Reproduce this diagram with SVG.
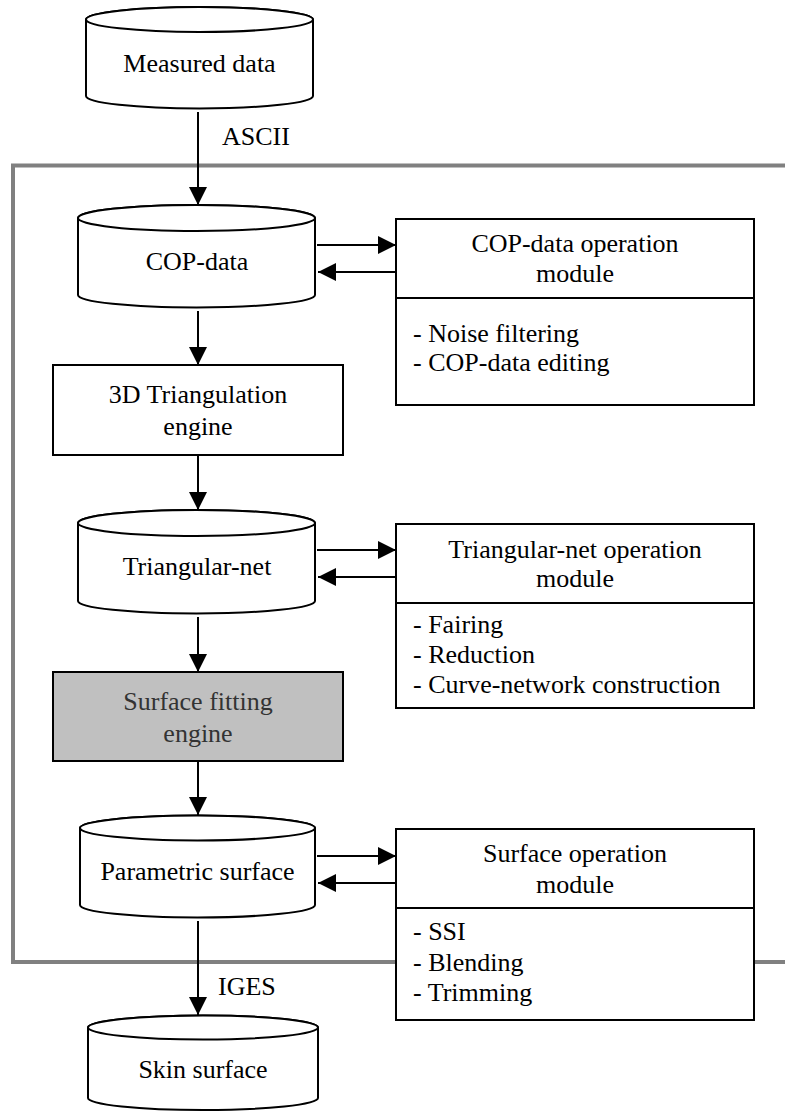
<svg xmlns="http://www.w3.org/2000/svg" width="785" height="1113" viewBox="0 0 785 1113">
<style>
.t{font-family:"Liberation Serif","Times New Roman",serif;font-size:26px;fill:#000}
.c{text-anchor:middle}
.shape{fill:#fff;stroke:#000;stroke-width:2}
.ln{stroke:#000;stroke-width:2;fill:none}
</style>
<defs>
<marker id="ah" markerUnits="userSpaceOnUse" markerWidth="18" markerHeight="18" refX="18" refY="9" orient="auto">
<path d="M0,0 L18,9 L0,18 Z" fill="#000"/>
</marker>
</defs>
<rect x="0" y="0" width="785" height="1113" fill="#fff"/>
<g id="frame"><rect x="13" y="165.5" width="800" height="796.5" fill="none" stroke="#808080" stroke-width="4"/></g>
<g id="connectors" font-family="Liberation Serif, serif">
<line class="ln" x1="198" y1="112" x2="198" y2="205" marker-end="url(#ah)"/>
<line class="ln" x1="198" y1="311" x2="198" y2="365" marker-end="url(#ah)"/>
<line class="ln" x1="198" y1="455" x2="198" y2="510" marker-end="url(#ah)"/>
<line class="ln" x1="198" y1="617" x2="198" y2="672" marker-end="url(#ah)"/>
<line class="ln" x1="198" y1="761" x2="198" y2="815" marker-end="url(#ah)"/>
<line class="ln" x1="198" y1="921" x2="198" y2="1015" marker-end="url(#ah)"/>
<line class="ln" x1="317" y1="245" x2="396" y2="245" marker-end="url(#ah)"/>
<line class="ln" x1="396" y1="272" x2="318" y2="272" marker-end="url(#ah)"/>
<line class="ln" x1="317" y1="550" x2="396" y2="550" marker-end="url(#ah)"/>
<line class="ln" x1="396" y1="577" x2="318" y2="577" marker-end="url(#ah)"/>
<line class="ln" x1="317" y1="856" x2="396" y2="856" marker-end="url(#ah)"/>
<line class="ln" x1="396" y1="883" x2="318" y2="883" marker-end="url(#ah)"/>
<text class="t" x="222" y="145">ASCII</text>
<text class="t" x="218" y="995">IGES</text>
</g>
<g id="measured" font-family="Liberation Serif, serif">
<path class="shape" d="M86,19.5 A113.5,12.5 0 0 1 313,19.5 V96 A113.5,12.5 0 0 1 86,96 Z"/>
<ellipse class="shape" cx="199.5" cy="19.5" rx="113.5" ry="12.5" fill="none"/>
<text class="t c" x="199.5" y="72">Measured data</text>
</g>
<g id="copdata" font-family="Liberation Serif, serif">
<path class="shape" d="M78,218 A118.5,13 0 0 1 315,218 V295 A118.5,12.5 0 0 1 78,295 Z"/>
<ellipse class="shape" cx="196.5" cy="218" rx="118.5" ry="13"/>
<text class="t c" x="197" y="270">COP-data</text>
</g>
<g id="copmodule" font-family="Liberation Serif, serif">
<rect class="shape" x="396" y="219" width="358" height="186"/>
<line class="ln" x1="396" y1="298" x2="754" y2="298"/>
<text class="t c" x="575" y="252">COP-data operation</text>
<text class="t c" x="575" y="282">module</text>
<text class="t" x="413" y="342">- Noise filtering</text>
<text class="t" x="413" y="371">- COP-data editing</text>
</g>
<g id="triangulation" font-family="Liberation Serif, serif">
<rect class="shape" x="53" y="365" width="290" height="90"/>
<text class="t c" x="198" y="403">3D Triangulation</text>
<text class="t c" x="198" y="435">engine</text>
</g>
<g id="trinet" font-family="Liberation Serif, serif">
<path class="shape" d="M78,523 A118.5,13 0 0 1 315,523 V601 A118.5,12.5 0 0 1 78,601 Z"/>
<ellipse class="shape" cx="196.5" cy="523" rx="118.5" ry="13"/>
<text class="t c" x="197" y="575">Triangular-net</text>
</g>
<g id="trimodule" font-family="Liberation Serif, serif">
<rect class="shape" x="396" y="524" width="358" height="184"/>
<line class="ln" x1="396" y1="603" x2="754" y2="603"/>
<text class="t c" x="575" y="558">Triangular-net operation</text>
<text class="t c" x="575" y="587">module</text>
<text class="t" x="413" y="633">- Fairing</text>
<text class="t" x="413" y="663">- Reduction</text>
<text class="t" x="413" y="693">- Curve-network construction</text>
</g>
<g id="fitting" font-family="Liberation Serif, serif">
<rect x="53" y="672" width="290" height="89" fill="#c0c0c0" stroke="#000" stroke-width="2"/>
<text class="t c" x="198" y="710" style="fill:#333">Surface fitting</text>
<text class="t c" x="198" y="742" style="fill:#333">engine</text>
</g>
<g id="parametric" font-family="Liberation Serif, serif">
<path class="shape" d="M80,828 A117.5,12.5 0 0 1 315,828 V905 A117.5,12.5 0 0 1 80,905 Z"/>
<ellipse class="shape" cx="197.5" cy="828" rx="117.5" ry="12.5"/>
<text class="t c" x="197.5" y="880">Parametric surface</text>
</g>
<g id="surfmodule" font-family="Liberation Serif, serif">
<rect class="shape" x="396" y="829" width="358" height="191"/>
<line class="ln" x1="396" y1="908" x2="754" y2="908"/>
<text class="t c" x="575" y="862">Surface operation</text>
<text class="t c" x="575" y="893">module</text>
<text class="t" x="413" y="940">- SSI</text>
<text class="t" x="413" y="971">- Blending</text>
<text class="t" x="413" y="1001">- Trimming</text>
</g>
<g id="skin" font-family="Liberation Serif, serif">
<path class="shape" d="M88,1027.5 A115,12 0 0 1 318,1027.5 V1098 A115,12 0 0 1 88,1098 Z"/>
<ellipse class="shape" cx="203" cy="1027.5" rx="115" ry="12"/>
<text class="t c" x="203" y="1078">Skin surface</text>
</g>
</svg>
